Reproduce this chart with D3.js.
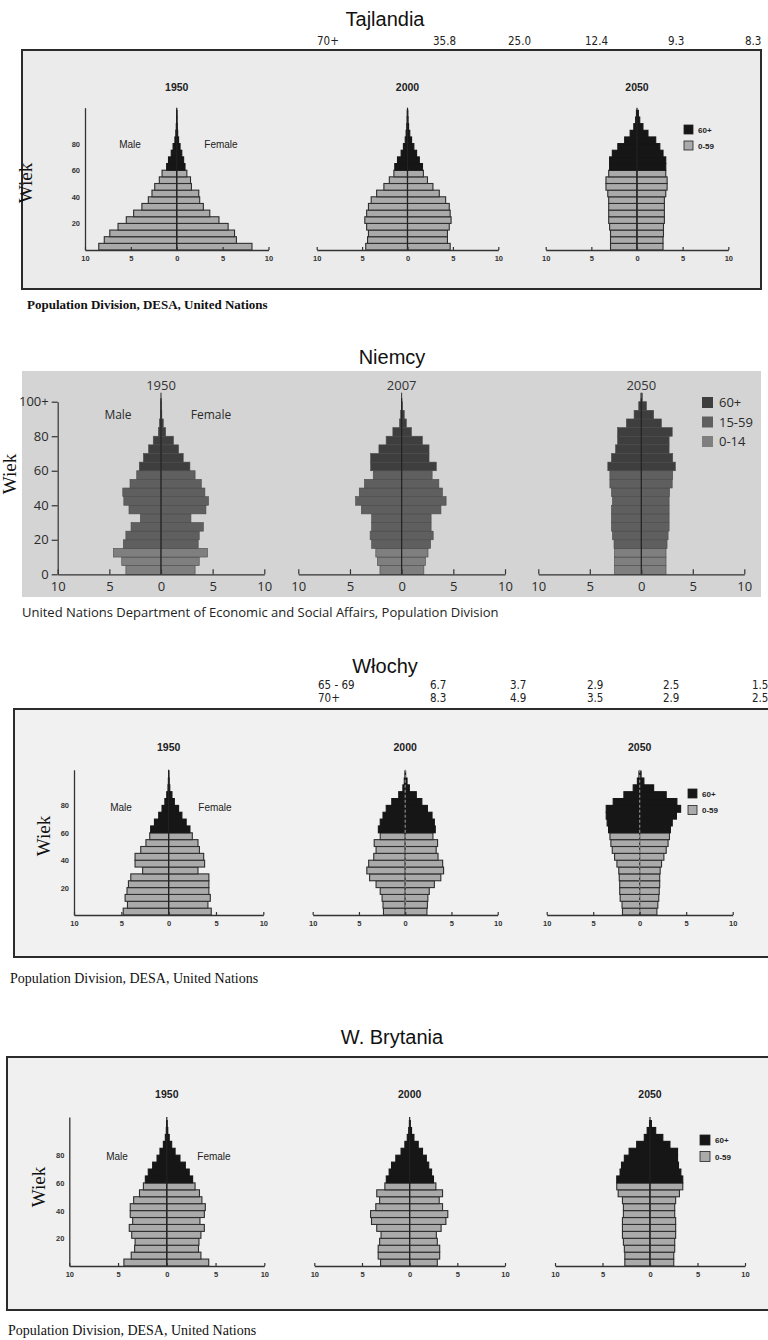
<!DOCTYPE html>
<html>
<head>
<meta charset="utf-8">
<script src="https://cdn.jsdelivr.net/npm/d3@7/dist/d3.min.js"></script>
<style>
  body { margin: 0; background: #fff; }
  svg { display: block; }
</style>
</head>
<body>
<svg id="chart" width="768" height="1340"></svg>
<script>
// ---- data ----
const ageGroups = ["0-4","5-9","10-14","15-19","20-24","25-29","30-34","35-39","40-44","45-49",
  "50-54","55-59","60-64","65-69","70-74","75-79","80-84","85-89","90-94","95-99","100+"];
const xTickValues = [-10, -5, 0, 5, 10];
const unAgeTicks = [20, 40, 60, 80];
const deAgeTicks = [0, 20, 40, 60, 80, 100];
const unLegend = ["60+", "0-59"];
const deLegend = ["60+", "15-59", "0-14"];

// Tajlandia
const thaiYears = ["1950", "2000", "2050"];
const thaiTopLabels = ["70+", "35.8", "25.0", "12.4", "9.3", "8.3"];
const thai1950Male   = [8.5,7.9,7.3,6.4,5.5,4.7,3.8,3.1,2.7,2.4,1.9,1.6,1.1,0.9,0.6,0.4,0.2,0.1,0.05,0.02,0.01];
const thai1950Female = [8.2,6.5,6.3,5.6,4.6,3.6,2.9,2.5,2.4,1.6,1.5,1.1,0.9,0.75,0.55,0.36,0.2,0.1,0.05,0.02,0.01];
const thai2000Male   = [4.6,4.4,4.3,4.5,4.7,4.5,4.3,4.0,3.4,2.6,2.0,1.5,1.4,1.1,0.7,0.45,0.25,0.15,0.08,0.04,0.02];
const thai2000Female = [4.7,4.4,4.4,4.6,4.8,4.7,4.6,4.2,3.5,2.8,2.2,1.75,1.65,1.3,1.0,0.7,0.45,0.25,0.12,0.06,0.03];
const thai2050Male   = [2.9,2.9,2.9,3.0,3.1,3.1,3.1,3.1,3.2,3.4,3.4,3.1,3.0,3.0,2.7,2.1,1.35,0.75,0.35,0.15,0.06];
const thai2050Female = [2.85,2.85,2.9,2.9,3.0,3.0,3.0,3.0,3.15,3.3,3.3,3.15,3.15,3.15,2.85,2.5,2.05,1.2,0.65,0.3,0.15];

// Niemcy
const deYears = ["1950", "2007", "2050"];
const de1950Male   = [3.4,3.8,4.6,3.65,3.4,2.9,2.0,3.1,3.6,3.7,3.0,2.35,2.1,1.7,1.2,0.75,0.25,0.15,0.05,0.02,0.01];
const de1950Female = [3.3,3.7,4.5,3.6,3.7,4.1,2.9,4.35,4.6,4.25,3.9,3.3,2.8,2.15,1.7,1.2,0.45,0.22,0.08,0.03,0.01];
const de2007Male   = [2.1,2.35,2.5,2.9,3.05,2.9,2.9,3.9,4.45,4.1,3.6,2.75,3.0,3.0,2.2,1.5,0.85,0.2,0.1,0.03,0.01];
const de2007Female = [2.15,2.3,2.55,2.8,3.05,2.85,2.85,3.8,4.3,3.95,3.6,2.95,3.35,2.65,2.65,2.0,0.95,0.45,0.25,0.08,0.02];
const de2050Male   = [2.6,2.6,2.6,2.65,2.8,2.9,2.9,2.9,2.8,2.9,3.05,3.05,3.25,2.9,2.5,2.3,2.3,1.45,0.7,0.25,0.05];
const de2050Female = [2.4,2.4,2.4,2.5,2.6,2.7,2.7,2.7,2.7,2.75,3.0,3.05,3.3,3.05,2.7,2.7,3.0,1.95,1.2,0.5,0.1];

// Włochy
const itYears = ["1950", "2000", "2050"];
const itTopRow1 = ["65 - 69", "6.7", "3.7", "2.9", "2.5", "1.5"];
const itTopRow2 = ["70+", "8.3", "4.9", "3.5", "2.9", "2.5"];
const it1950Male   = [4.8,4.35,4.6,4.4,4.25,4.0,2.75,3.55,3.55,2.95,2.4,2.0,1.9,1.5,1.05,0.7,0.4,0.2,0.07,0.03,0.01];
const it1950Female = [4.5,4.15,4.4,4.25,4.25,4.25,3.1,3.8,3.7,3.25,3.1,2.5,2.25,1.85,1.4,1.05,0.6,0.35,0.12,0.05,0.01];
const it2000Male   = [2.35,2.4,2.5,2.7,3.15,3.85,4.15,3.95,3.4,3.15,3.35,2.7,2.9,2.7,2.4,2.05,1.45,0.7,0.25,0.1,0.02];
const it2000Female = [2.35,2.4,2.45,2.6,3.15,3.85,4.15,4.05,3.55,3.35,3.5,3.0,3.25,3.15,2.9,2.4,1.8,1.2,0.45,0.2,0.05];
const it2050Male   = [1.85,1.9,2.1,2.15,2.15,2.2,2.25,2.45,2.7,2.95,3.1,3.2,3.35,3.5,3.6,3.6,2.85,1.7,0.7,0.25,0.08];
const it2050Female = [1.85,1.95,2.05,2.1,2.15,2.15,2.2,2.35,2.6,2.85,3.05,3.2,3.3,3.5,3.95,4.4,4.0,2.85,1.5,0.45,0.15];

// W. Brytania
const ukYears = ["1950", "2000", "2050"];
const uk1950Male   = [4.4,3.65,3.3,3.25,3.6,3.85,3.5,3.75,3.75,3.4,2.8,2.4,2.2,1.9,1.45,1.0,0.7,0.35,0.15,0.05,0.02];
const uk1950Female = [4.3,3.5,3.25,3.3,3.5,3.85,3.4,3.85,3.95,3.6,3.35,2.9,2.65,2.3,1.9,1.35,0.85,0.5,0.25,0.1,0.03];
const uk2000Male   = [3.05,3.3,3.3,3.15,3.0,3.45,4.0,4.1,3.55,3.15,3.45,2.6,2.45,2.15,1.9,1.45,0.9,0.5,0.25,0.1,0.03];
const uk2000Female = [2.9,3.15,3.15,2.9,2.8,3.3,3.8,4.0,3.45,3.1,3.45,2.75,2.5,2.3,2.0,1.75,1.35,0.9,0.45,0.2,0.07];
const uk2050Male   = [2.65,2.65,2.7,2.8,2.9,2.9,2.9,2.8,2.8,2.9,3.35,3.5,3.5,3.15,3.0,2.7,2.2,1.4,0.6,0.3,0.05];
const uk2050Female = [2.5,2.5,2.6,2.6,2.7,2.7,2.7,2.6,2.6,2.7,3.1,3.45,3.45,3.25,3.0,2.9,2.9,2.1,1.35,0.6,0.15];

const captionUN = "Population Division, DESA, United Nations";
const captionDE = "United Nations Department of Economic and Social Affairs, Population Division";

// ---- drawing ----
const SANS = "'Liberation Sans', Arial, sans-serif";
const NARROW = "'DejaVu Sans Condensed', 'Liberation Sans Narrow', sans-serif";
const SERIF = "'Liberation Serif', 'Times New Roman', serif";
const MYRIAD = "'Open Sans', 'Noto Sans', sans-serif";
const UN_GREY = "#aaaaaa", UN_BLACK = "#161616";
const DE_COLORS = ["#3e3e3e", "#5f5f5f", "#7f7f7f"];

var svg = d3.select("#chart");

function barColor(style, i){
  if(style === "un") return i >= 12 ? UN_BLACK : UN_GREY;
  if(i >= 12) return DE_COLORS[0];
  return i >= 3 ? DE_COLORS[1] : DE_COLORS[2];
}

function drawPyramid(g, p){
  var x = d3.scaleLinear().domain([-10, 10]).range([p.xl, p.xr]);
  var y = d3.scaleLinear().domain([0, 105]).range([p.axisY, p.axisY - 105 * p.pxYr]);
  var band = d3.scaleBand().domain(ageGroups).range([y(0), y(105)]);
  var un = p.style === "un";

  var rows = ageGroups.map(function(a, i){ return {age: a, i: i, m: p.male[i], f: p.female[i]}; });
  var bars = g.append("g");
  bars.selectAll("rect.m").data(rows).enter().append("rect")
    .attr("class", "m")
    .attr("x", function(d){ return x(-d.m); })
    .attr("y", function(d){ return band(d.age); })
    .attr("width", function(d){ return x(0) - x(-d.m); })
    .attr("height", band.bandwidth())
    .attr("fill", function(d){ return barColor(p.style, d.i); })
    .attr("stroke", function(d){ return un ? (d.i >= 12 ? UN_BLACK : "#2e2e2e") : "#4a4a4a"; })
    .attr("stroke-width", un ? 1.1 : 0.6);
  bars.selectAll("rect.f").data(rows).enter().append("rect")
    .attr("class", "f")
    .attr("x", x(0))
    .attr("y", function(d){ return band(d.age); })
    .attr("width", function(d){ return x(d.f) - x(0); })
    .attr("height", band.bandwidth())
    .attr("fill", function(d){ return barColor(p.style, d.i); })
    .attr("stroke", function(d){ return un ? (d.i >= 12 ? UN_BLACK : "#2e2e2e") : "#4a4a4a"; })
    .attr("stroke-width", un ? 1.1 : 0.6);

  // centre line
  g.append("line")
    .attr("x1", x(0)).attr("x2", x(0))
    .attr("y1", y(p.topAge)).attr("y2", y(0))
    .attr("stroke", p.dashed ? "#8a8a8a" : "#222")
    .attr("stroke-dasharray", p.dashed ? "3,2" : null)
    .attr("stroke-width", 1.2);

  // x axis
  var xa = g.append("g")
    .attr("transform", "translate(0," + p.axisY + ")")
    .call(d3.axisBottom(x).tickValues(xTickValues)
      .tickFormat(function(d){ return Math.abs(d); })
      .tickSizeInner(un ? -3 : -5).tickSizeOuter(0).tickPadding(un ? 6 : 7));
  styleAxis(xa, un);

  // y axis only on the first pyramid
  if(p.yAxis){
    var ya = g.append("g")
      .attr("transform", "translate(" + p.xl + ",0)")
      .call(d3.axisLeft(y.copy().domain([0, un ? p.topAge : 100]).range([y(0), y(un ? p.topAge : 100)]))
        .tickValues(un ? unAgeTicks : deAgeTicks)
        .tickFormat(function(d){ return d === 100 ? "100+" : d; })
        .tickSize(un ? 0 : 6).tickSizeOuter(0).tickPadding(un ? 5 : 3));
    styleAxis(ya, un);
  }
}

function styleAxis(a, un){
  a.select(".domain").attr("stroke", "#333").attr("stroke-width", un ? 1.3 : 1.2);
  a.selectAll(".tick line").attr("stroke", "#333").attr("stroke-width", 1.2);
  a.selectAll("text")
    .attr("fill", un ? "#333" : "#2a2a2a")
    .style("font-family", un ? SANS : MYRIAD)
    .style("font-weight", un ? "bold" : "normal")
    .style("font-size", un ? "7.5px" : "13px");
}

function text(x, y, s, size, fam, opts){
  opts = opts || {};
  return svg.append("text").attr("x", x).attr("y", y).text(s)
    .attr("text-anchor", opts.anchor || "middle")
    .attr("fill", opts.fill || "#111")
    .style("font-family", fam).style("font-size", size + "px")
    .style("font-weight", opts.bold ? "bold" : "normal");
}

function wiek(x, y){
  svg.append("text").attr("transform", "translate(" + x + "," + y + ") rotate(-90)")
    .attr("text-anchor", "middle").attr("fill", "#111")
    .style("font-family", SERIF).style("font-size", "19px").text("Wiek");
}

function legend(x, ys, size, labels, colors, style){
  labels.forEach(function(l, i){
    svg.append("rect").attr("x", x).attr("y", ys[i]).attr("width", size).attr("height", size)
      .attr("fill", colors[i]).attr("stroke", style === "un" ? "#222" : "none").attr("stroke-width", 0.8);
    text(x + size + (style === "un" ? 5 : 6), ys[i] + size / 2 + (style === "un" ? 3 : 4.5), l,
      style === "un" ? 8 : 13, style === "un" ? SANS : MYRIAD,
      {anchor: "start", bold: style === "un", fill: style === "un" ? "#222" : "#2a2a2a"});
  });
}

function unPanel(c){
  text(c.titleX, c.titleY, c.title, 20, SANS);
  svg.append("rect").attr("x", c.box[0]).attr("y", c.box[1]).attr("width", c.box[2]).attr("height", c.box[3])
    .attr("fill", c.boxFill).attr("stroke", "#2b2b2b").attr("stroke-width", 2);
  var g = svg.append("g");
  c.pyr.forEach(function(p, i){
    text((p.xl + p.xr) / 2, c.yearY, c.years[i], 10.5, SANS, {bold: true, fill: "#222"});
    drawPyramid(g.append("g"), Object.assign({style: "un", axisY: c.axisY, pxYr: c.pxYr, topAge: c.topAge, yAxis: i === 0}, p));
  });
  text(c.male[0], c.male[1], "Male", 10, SANS, {fill: "#222"});
  text(c.female[0], c.female[1], "Female", 10, SANS, {fill: "#222"});
  legend(c.legX, c.legY, c.legSize, unLegend, [UN_BLACK, UN_GREY], "un");
  wiek(c.wiek[0], c.wiek[1]);
  text(c.capX, c.capY, captionUN, c.capSize, SERIF, {anchor: "start", bold: c.capBold});
}

// Tajlandia
unPanel({
  title: "Tajlandia", titleX: 385, titleY: 26,
  box: [22, 50, 739, 239], boxFill: "#ebebeb",
  years: thaiYears, yearY: 91,
  axisY: 250, pxYr: 1.33, topAge: 107,
  pyr: [
    {xl: 85, xr: 268.5, male: thai1950Male, female: thai1950Female},
    {xl: 316.7, xr: 498.3, male: thai2000Male, female: thai2000Female},
    {xl: 545.7, xr: 728.3, male: thai2050Male, female: thai2050Female}
  ],
  male: [130, 148], female: [221, 148],
  legX: 684, legY: [125, 141], legSize: 9,
  wiek: [32, 183],
  capX: 27, capY: 309, capSize: 13, capBold: true
});
var thaiTopX = [317, 433, 508, 585, 668, 745];
thaiTopLabels.forEach(function(s, i){ text(thaiTopX[i], 45, s, 11.5, NARROW, {anchor: "start", fill: "#222"}); });

// Niemcy
text(392, 364, "Niemcy", 20, SANS);
svg.append("rect").attr("x", 22).attr("y", 371).attr("width", 739).attr("height", 226).attr("fill", "#d4d4d4");
var deG = svg.append("g");
var dePyr = [
  {xl: 57.7, xr: 264.3, male: de1950Male, female: de1950Female},
  {xl: 298.3, xr: 505, male: de2007Male, female: de2007Female},
  {xl: 538.3, xr: 744.3, male: de2050Male, female: de2050Female}
];
dePyr.forEach(function(p, i){
  text((p.xl + p.xr) / 2, 390, deYears[i], 13, MYRIAD, {fill: "#333"});
  drawPyramid(deG.append("g"), Object.assign({style: "de", axisY: 574.3, pxYr: 1.726, topAge: 102, yAxis: i === 0}, p));
});
text(118, 419, "Male", 12, MYRIAD, {fill: "#2a2a2a"});
text(211, 419, "Female", 12, MYRIAD, {fill: "#2a2a2a"});
legend(702, [397, 416.5, 436], 11, deLegend, DE_COLORS, "de");
wiek(16, 474);
text(22, 617, captionDE, 13, MYRIAD, {anchor: "start", fill: "#222"});

// Włochy
unPanel({
  title: "Włochy", titleX: 385, titleY: 673,
  box: [14, 709, 758, 248], boxFill: "#f1f1f1",
  years: itYears, yearY: 751,
  axisY: 915, pxYr: 1.37, topAge: 106,
  pyr: [
    {xl: 74, xr: 263.3, male: it1950Male, female: it1950Female},
    {xl: 312.7, xr: 497.7, male: it2000Male, female: it2000Female, dashed: true},
    {xl: 546.7, xr: 732.7, male: it2050Male, female: it2050Female, dashed: true}
  ],
  male: [121, 811], female: [215, 811],
  legX: 688, legY: [789, 805.5], legSize: 9,
  wiek: [50, 836],
  capX: 10, capY: 983, capSize: 14, capBold: false
});
var itTopX = [318, 430, 510, 587, 663, 752];
itTopRow1.forEach(function(s, i){ text(itTopX[i], 689, s, 11.5, NARROW, {anchor: "start", fill: "#222"}); });
itTopRow2.forEach(function(s, i){ text(itTopX[i], 702, s, 11.5, NARROW, {anchor: "start", fill: "#222"}); });

// W. Brytania
unPanel({
  title: "W. Brytania", titleX: 392, titleY: 1044,
  box: [7, 1057, 770, 253], boxFill: "#f0f0f0",
  years: ukYears, yearY: 1098,
  axisY: 1266, pxYr: 1.385, topAge: 107.6,
  pyr: [
    {xl: 69.3, xr: 264.3, male: uk1950Male, female: uk1950Female},
    {xl: 314.3, xr: 505, male: uk2000Male, female: uk2000Female},
    {xl: 555, xr: 745, male: uk2050Male, female: uk2050Female}
  ],
  male: [117, 1160], female: [214, 1160],
  legX: 700, legY: [1135, 1151.5], legSize: 10,
  wiek: [45, 1187],
  capX: 8, capY: 1335, capSize: 14, capBold: false
});
</script>
</body>
</html>
